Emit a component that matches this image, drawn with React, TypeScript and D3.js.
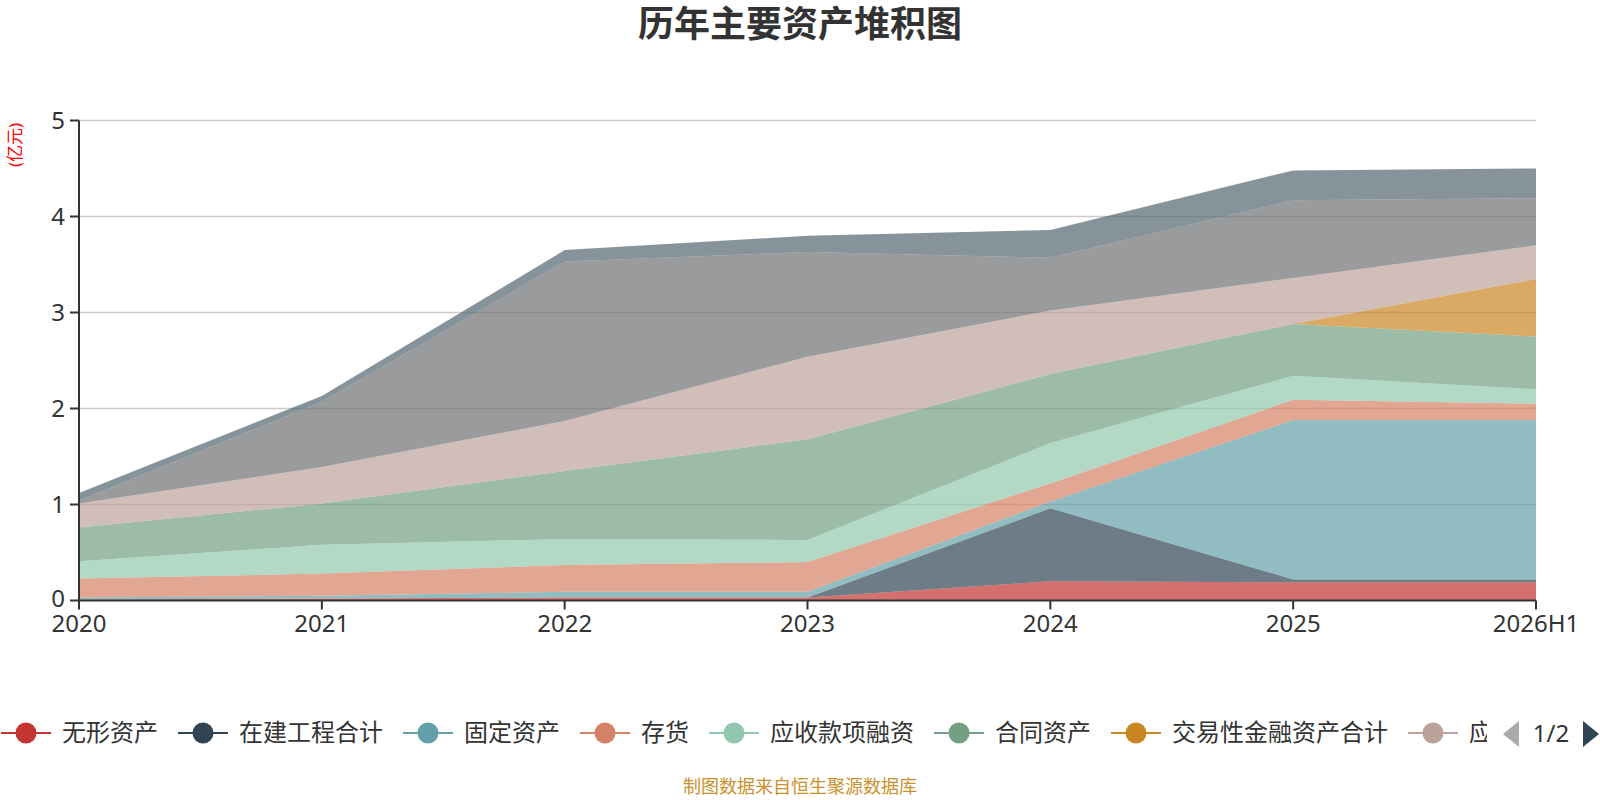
import { useEffect, useRef } from 'react';
import * as d3 from 'd3';

const years = ['2020', '2021', '2022', '2023', '2024', '2025', '2026H1'];

const seriesNames = [
  '无形资产',
  '在建工程合计',
  '固定资产',
  '存货',
  '应收款项融资',
  '合同资产',
  '交易性金融资产合计',
  '应收账款',
  '货币资金',
  '预付款项',
];

// 亿元
const intangible = [0.01, 0.02, 0.03, 0.03, 0.2, 0.19, 0.19];
const construction = [0, 0, 0, 0, 0.76, 0.03, 0.03];
const fixedAssets = [0.02, 0.03, 0.06, 0.06, 0.07, 1.66, 1.66];
const inventory = [0.2, 0.23, 0.28, 0.31, 0.19, 0.21, 0.17];
const receivablesFinancing = [0.18, 0.3, 0.27, 0.23, 0.42, 0.25, 0.15];
const contractAssets = [0.35, 0.43, 0.71, 1.05, 0.72, 0.54, 0.55];
const tradingAssets = [0, 0, 0, 0, 0, 0, 0.6];
const receivables = [0.25, 0.38, 0.52, 0.86, 0.66, 0.48, 0.35];
const cash = [0.03, 0.68, 1.66, 1.09, 0.55, 0.81, 0.49];
const prepayments = [0.08, 0.06, 0.12, 0.17, 0.29, 0.31, 0.31];

const seriesValues = [
  intangible,
  construction,
  fixedAssets,
  inventory,
  receivablesFinancing,
  contractAssets,
  tradingAssets,
  receivables,
  cash,
  prepayments,
];

const yTicks = [0, 1, 2, 3, 4, 5];

const palette = [
  '#c23531',
  '#2f4554',
  '#61a0a8',
  '#d48265',
  '#91c7ae',
  '#749f83',
  '#ca8622',
  '#bda29a',
  '#6e7074',
  '#546570',
];

const FONT = '"Noto Sans", "Noto Sans CJK SC", sans-serif';

export default function App() {
  const svgRef = useRef<SVGSVGElement>(null);
  const width = 1600;
  const height = 800;

  useEffect(() => {
    if (!svgRef.current) return;
    const svg = d3.select(svgRef.current);
    svg.selectAll('*').remove();

    const left = 79;
    const right = 1536;
    const top = 120.5;
    const bottom = 600.5;

    const rows = years.map((year, i) => {
      const row: { [key: string]: string | number } = { year };
      seriesNames.forEach((name, s) => {
        row[name] = seriesValues[s][i];
      });
      return row;
    });

    const series = d3.stack<{ [key: string]: string | number }>().keys(seriesNames)(rows);

    const x = d3.scalePoint<string>().domain(years).range([left, right]);
    const y = d3.scaleLinear().domain([0, 5]).range([bottom, top]);

    // grid
    svg
      .append('g')
      .selectAll('line')
      .data(yTicks.filter((t) => t > 0))
      .enter()
      .append('line')
      .attr('x1', left)
      .attr('x2', right)
      .attr('y1', (d) => y(d))
      .attr('y2', (d) => y(d))
      .attr('stroke', '#cccccc')
      .attr('stroke-width', 1.5);

    // stacked areas
    const area = d3
      .area<d3.SeriesPoint<{ [key: string]: string | number }>>()
      .x((d) => x(d.data.year as string) || 0)
      .y0((d) => y(d[0]))
      .y1((d) => y(d[1]));

    svg
      .append('g')
      .selectAll('path')
      .data(series)
      .enter()
      .append('path')
      .attr('d', (d) => area(d) || '')
      .attr('fill', (_d, i) => palette[i])
      .attr('fill-opacity', 0.7);

    // axes
    const axisColor = '#333333';
    svg
      .append('line')
      .attr('x1', left)
      .attr('x2', left)
      .attr('y1', top)
      .attr('y2', bottom)
      .attr('stroke', axisColor)
      .attr('stroke-width', 2);
    svg
      .append('line')
      .attr('x1', left)
      .attr('x2', right)
      .attr('y1', bottom)
      .attr('y2', bottom)
      .attr('stroke', axisColor)
      .attr('stroke-width', 2);

    yTicks.forEach((t) => {
      svg
        .append('line')
        .attr('x1', left - 9)
        .attr('x2', left)
        .attr('y1', y(t))
        .attr('y2', y(t))
        .attr('stroke', axisColor)
        .attr('stroke-width', 2);
      svg
        .append('text')
        .attr('x', left - 14)
        .attr('y', y(t) - (t === 0 ? 2 : 0))
        .attr('dy', '0.35em')
        .attr('text-anchor', 'end')
        .attr('font-family', FONT)
        .attr('font-size', 24)
        .attr('fill', '#333')
        .text(t);
    });

    years.forEach((yr) => {
      const px = x(yr) || 0;
      svg
        .append('line')
        .attr('x1', px)
        .attr('x2', px)
        .attr('y1', bottom)
        .attr('y2', bottom + 9)
        .attr('stroke', axisColor)
        .attr('stroke-width', 2);
      svg
        .append('text')
        .attr('x', px)
        .attr('y', 632)
        .attr('text-anchor', 'middle')
        .attr('font-family', FONT)
        .attr('font-size', 24)
        .attr('fill', '#333')
        .text(yr);
    });

    // y axis name
    svg
      .append('text')
      .attr('transform', 'translate(21,145) rotate(-90)')
      .attr('text-anchor', 'middle')
      .attr('font-family', FONT)
      .attr('font-size', 17)
      .attr('fill', '#ff0000')
      .text('(亿元)');

    // title
    svg
      .append('text')
      .attr('x', 800)
      .attr('y', 37)
      .attr('text-anchor', 'middle')
      .attr('font-family', FONT)
      .attr('font-size', 36)
      .attr('font-weight', 'bold')
      .attr('fill', '#333')
      .text('历年主要资产堆积图');

    // legend (page 1 of 2, last item cut by the page controls)
    svg
      .append('clipPath')
      .attr('id', 'legend-clip')
      .append('rect')
      .attr('x', 0)
      .attr('y', 700)
      .attr('width', 1487)
      .attr('height', 70);

    const legend = svg.append('g').attr('clip-path', 'url(#legend-clip)');
    const ly = 733;
    let cx = 26;
    seriesNames.slice(0, 8).forEach((name, i) => {
      legend
        .append('line')
        .attr('x1', cx - 25)
        .attr('x2', cx + 25)
        .attr('y1', ly)
        .attr('y2', ly)
        .attr('stroke', palette[i])
        .attr('stroke-width', 2);
      legend
        .append('circle')
        .attr('cx', cx)
        .attr('cy', ly)
        .attr('r', 10.5)
        .attr('fill', palette[i]);
      legend
        .append('text')
        .attr('x', cx + 36)
        .attr('y', ly)
        .attr('dy', '0.35em')
        .attr('font-family', FONT)
        .attr('font-size', 24)
        .attr('fill', '#333')
        .text(i === 7 ? name.slice(0, 1) : name);
      cx += 36 + name.length * 24 + 45;
    });

    // page controls
    svg
      .append('path')
      .attr('d', `M1519,721 L1503,734 L1519,747 Z`)
      .attr('fill', '#aaaaaa');
    svg
      .append('text')
      .attr('x', 1551)
      .attr('y', 734)
      .attr('dy', '0.35em')
      .attr('text-anchor', 'middle')
      .attr('font-family', FONT)
      .attr('font-size', 24)
      .attr('fill', '#333')
      .text('1/2');
    svg
      .append('path')
      .attr('d', `M1583,721 L1599,734 L1583,747 Z`)
      .attr('fill', '#2f4554');

    // source note
    svg
      .append('text')
      .attr('x', 800)
      .attr('y', 793)
      .attr('text-anchor', 'middle')
      .attr('font-family', FONT)
      .attr('font-size', 18)
      .attr('fill', '#c9912b')
      .text('制图数据来自恒生聚源数据库');
  }, []);

  return (
    <svg
      ref={svgRef}
      width={width}
      height={height}
      viewBox={`0 0 ${width} ${height}`}
      style={{ position: 'absolute', left: 0, top: 0, background: '#fff' }}
    />
  );
}
